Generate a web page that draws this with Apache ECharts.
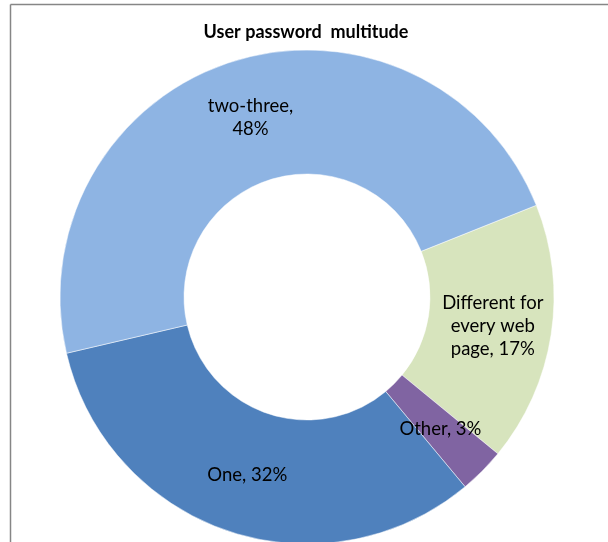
<!DOCTYPE html>
<html>
<head>
<meta charset="utf-8">
<script src="https://cdn.jsdelivr.net/npm/echarts@6/dist/echarts.min.js"></script>
<style>
html,body{margin:0;padding:0;background:#fff;}
#chart{width:608px;height:542px;}
</style>
</head>
<body>
<div id="chart"></div>
<script>
const title = 'User password  multitude';
const categories = ['Different for\nevery web\npage', 'Other', 'One', 'two-three'];
const values = [17.0, 3.0, 32.4, 47.6];
const colors = ['#D7E4BD', '#8064A2', '#4F81BD', '#8EB4E3'];

const chart = echarts.init(document.getElementById('chart'));
chart.setOption({
  animation: false,
  title: {
    text: title,
    left: 301, top: 18, textAlign: 'center',
    textStyle: {fontFamily: 'Lato', fontWeight: 'bold', fontSize: 18, color: '#000'}
  },
  graphic: [
    {type: 'line', shape: {x1: 10.5, y1: 4.5, x2: 620, y2: 4.5}, style: {stroke: '#868686', lineWidth: 1.5}},
    {type: 'line', shape: {x1: 10.5, y1: 4.5, x2: 10.5, y2: 560}, style: {stroke: '#868686', lineWidth: 1.5}}
  ],
  series: [{
    type: 'pie',
    center: [307, 297],
    radius: [123, 247],
    startAngle: 21.8,
    clockwise: true,
    percentPrecision: 0,
    itemStyle: {borderColor: '#fff', borderWidth: 0.5},
    label: {
      show: true,
      position: 'inside',
      formatter: '{b}, {d}%',
      fontFamily: 'Lato',
      fontSize: 18.5,
      lineHeight: 23,
      color: '#000',
      align: 'center'
    },
    labelLine: {show: false},
    data: categories.map((c, i) => ({
      name: c, value: values[i], itemStyle: {color: colors[i]},
      label: c === 'two-three' ? {formatter: '{b},\n{d}%'} : {}
    }))
  }]
});
</script>
</body>
</html>
